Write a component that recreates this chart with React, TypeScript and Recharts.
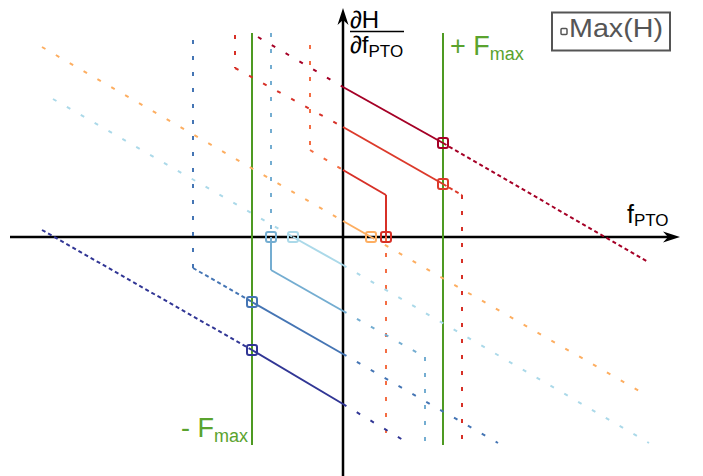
import React from 'react';
import { ComposedChart, XAxis, YAxis, ReferenceLine, ReferenceDot } from 'recharts';

// Axis units: f_PTO on x, dH/df_PTO on y (arbitrary units)
const X_DOMAIN: [number, number] = [-34.3, 36.0];
const Y_DOMAIN: [number, number] = [-23.9, 23.7];

const F_MAX_NEG = -9.1;
const F_MAX_POS = 10.0;
const F_LINE_RANGE: [number, number] = [-20.8, 20.4];

type Pt = [number, number];
type Poly = Pt[];

// Curve 1 (dark red)
const darkRedSolid: Poly[] = [[[0, 15.0], [10.0, 9.4]]];
const darkRedDashSparse: Poly[] = [[[-8.5, 20.0], [0, 15.0]]];
const darkRedDashDense: Poly[] = [[[10.0, 9.4], [30.5, -2.5]]];
const darkRedMax: Pt = [10.0, 9.4];

// Curve 2 (red)
const redSolid: Poly[] = [[[0, 11.0], [10.0, 5.3]]];
const redDashSparse: Poly[] = [[[-10.8, 20.2], [-10.8, 16.9], [0, 11.0]], [[11.9, 4.2], [11.9, -20.8]]];
const redDashDense: Poly[] = [[[10.0, 5.3], [11.9, 4.2]]];
const redMax: Pt = [10.0, 5.3];

// Curve 3 (red solid, salmon dashed)
const red3Solid: Poly[] = [[[0, 6.7], [4.3, 4.2], [4.3, 0]]];
const salmonDashSparse: Poly[] = [[[-3.3, 19.2], [-3.3, 8.7], [0, 6.7]], [[4.3, 0], [4.3, -20.8]]];
const red3Max: Pt = [4.3, 0];

// Curve 4 (orange)
const orangeSolid: Poly[] = [[[0, 1.6], [2.8, 0]]];
const orangeDashSparse: Poly[] = [[[-30.1, 19.0], [0, 1.6]], [[2.8, 0], [29.8, -15.5]]];
const orangeMax: Pt = [2.8, 0];

// Curve 5 (light blue)
const lightBlueSolid: Poly[] = [[[-5.0, 0], [0, -2.8]]];
const lightBlueDashSparse: Poly[] = [[[-29.0, 13.8], [-5.0, 0]], [[0, -2.8], [30.6, -20.6]]];
const lightBlueMax: Pt = [-5.0, 0];

// Curve 6 (mid blue)
const midBlueSolid: Poly[] = [[[-7.2, 0], [-7.2, -3.3], [0, -7.4]]];
const midBlueDashSparse: Poly[] = [[[-7.2, 20.4], [-7.2, 0]], [[0, -7.4], [8.2, -12.0], [8.2, -20.8]]];
const midBlueMax: Pt = [-7.2, 0];

// Curve 7 (blue)
const blueSolid: Poly[] = [[[-9.1, -6.5], [0, -11.7]]];
const blueDashSparse: Poly[] = [[[-15.0, 19.7], [-15.0, -3.1]], [[0, -11.7], [15.5, -20.6]]];
const blueDashDense: Poly[] = [[[-15.0, -3.1], [-9.1, -6.5]]];
const blueMax: Pt = [-9.1, -6.5];

// Curve 8 (dark blue)
const darkBlueSolid: Poly[] = [[[-9.1, -11.3], [0, -16.7]]];
const darkBlueDashDense: Poly[] = [[[-30.1, 0.7], [-9.1, -11.3]]];
const darkBlueDashSparse: Poly[] = [[[0, -16.7], [6.0, -20.3]]];
const darkBlueMax: Pt = [-9.1, -11.3];

const C = {
  darkRed: '#a50026',
  red: '#dc3a2b',
  red3: '#d73027',
  salmon: '#f46d43',
  orange: '#fdae61',
  lightBlue: '#abd9e9',
  midBlue: '#74add1',
  blue: '#4575b4',
  darkBlue: '#313695',
  green: '#4e9a22',
  greenText: '#5aa32e',
};

const SPARSE = '4 12';
const DENSE = '4 3';

type Piece = { polys: Poly[]; color: string; dash?: string };

const pieces: Piece[] = [
  { polys: darkRedDashSparse, color: C.darkRed, dash: SPARSE },
  { polys: darkRedDashDense, color: C.darkRed, dash: DENSE },
  { polys: redDashSparse, color: C.red3, dash: SPARSE },
  { polys: redDashDense, color: C.red, dash: DENSE },
  { polys: salmonDashSparse, color: C.salmon, dash: SPARSE },
  { polys: orangeDashSparse, color: C.orange, dash: SPARSE },
  { polys: lightBlueDashSparse, color: C.lightBlue, dash: SPARSE },
  { polys: midBlueDashSparse, color: C.midBlue, dash: SPARSE },
  { polys: blueDashSparse, color: C.blue, dash: SPARSE },
  { polys: blueDashDense, color: C.blue, dash: DENSE },
  { polys: darkBlueDashDense, color: C.darkBlue, dash: DENSE },
  { polys: darkBlueDashSparse, color: C.darkBlue, dash: SPARSE },
  { polys: darkRedSolid, color: C.darkRed },
  { polys: redSolid, color: C.red },
  { polys: red3Solid, color: C.red3 },
  { polys: orangeSolid, color: C.orange },
  { polys: lightBlueSolid, color: C.lightBlue },
  { polys: midBlueSolid, color: C.midBlue },
  { polys: blueSolid, color: C.blue },
  { polys: darkBlueSolid, color: C.darkBlue },
];

const maxima: { p: Pt; color: string }[] = [
  { p: darkRedMax, color: C.darkRed },
  { p: redMax, color: C.red },
  { p: red3Max, color: C.red3 },
  { p: orangeMax, color: C.orange },
  { p: lightBlueMax, color: C.lightBlue },
  { p: midBlueMax, color: C.midBlue },
  { p: blueMax, color: C.blue },
  { p: darkBlueMax, color: C.darkBlue },
];

const X_AXIS_RANGE: [number, number] = [-33.3, 33.7];
const Y_AXIS_RANGE: [number, number] = [-23.9, 22.9];

const FONT = '"Liberation Sans", Arial, Helvetica, sans-serif';

const squareShape = (color: string) => (props: any) => {
  const { cx, cy } = props;
  return (
    <rect x={cx - 5} y={cy - 5} width={10} height={10} rx={2} ry={2} fill="none" stroke={color} strokeWidth={2} />
  );
};

const arrowRight = (props: any) => {
  const { cx, cy } = props;
  return <path d={`M${cx},${cy} L${cx - 17},${cy - 5.5} L${cx - 12},${cy} L${cx - 17},${cy + 5.5} Z`} fill="#000" />;
};
const arrowUp = (props: any) => {
  const { cx, cy } = props;
  return <path d={`M${cx},${cy} L${cx - 5.5},${cy + 17} L${cx},${cy + 12} L${cx + 5.5},${cy + 17} Z`} fill="#000" />;
};

export default function App() {
  const segs: React.ReactNode[] = [];
  pieces.forEach((pc, i) => {
    pc.polys.forEach((poly, j) => {
      for (let k = 0; k < poly.length - 1; k++) {
        segs.push(
          <ReferenceLine
            key={`s-${i}-${j}-${k}`}
            segment={[
              { x: poly[k][0], y: poly[k][1] },
              { x: poly[k + 1][0], y: poly[k + 1][1] },
            ]}
            stroke={pc.color}
            strokeWidth={2}
            strokeDasharray={pc.dash}
            ifOverflow="visible"
          />
        );
      }
    });
  });

  return (
    <div style={{ position: 'absolute', left: 0, top: 0, width: 703, height: 476, background: '#fff' }}>
      <ComposedChart width={703} height={476} margin={{ top: 0, right: 0, bottom: 0, left: 0 }} data={[]}>
        <XAxis type="number" dataKey="x" domain={X_DOMAIN} hide allowDataOverflow />
        <YAxis type="number" dataKey="y" domain={Y_DOMAIN} hide allowDataOverflow />
        {/* axes */}
        <ReferenceLine segment={[{ x: X_AXIS_RANGE[0], y: 0 }, { x: X_AXIS_RANGE[1] - 1.2, y: 0 }]} stroke="#000" strokeWidth={2.5} ifOverflow="visible" />
        <ReferenceLine segment={[{ x: 0, y: Y_AXIS_RANGE[0] }, { x: 0, y: Y_AXIS_RANGE[1] - 1.2 }]} stroke="#000" strokeWidth={2.5} ifOverflow="visible" />
        <ReferenceDot x={X_AXIS_RANGE[1]} y={0} r={1} shape={arrowRight} ifOverflow="visible" />
        <ReferenceDot x={0} y={Y_AXIS_RANGE[1]} r={1} shape={arrowUp} ifOverflow="visible" />
        {/* force limits */}
        <ReferenceLine segment={[{ x: F_MAX_NEG, y: F_LINE_RANGE[0] }, { x: F_MAX_NEG, y: F_LINE_RANGE[1] }]} stroke={C.green} strokeWidth={2} ifOverflow="visible" />
        <ReferenceLine segment={[{ x: F_MAX_POS, y: F_LINE_RANGE[0] }, { x: F_MAX_POS, y: F_LINE_RANGE[1] }]} stroke={C.green} strokeWidth={2} ifOverflow="visible" />
        {segs}
        {maxima.map((m, i) => (
          <ReferenceDot key={`m-${i}`} x={m.p[0]} y={m.p[1]} r={5} shape={squareShape(m.color)} ifOverflow="visible" />
        ))}
      </ComposedChart>
      <svg width={703} height={476} style={{ position: 'absolute', left: 0, top: 0, pointerEvents: 'none' }} fontFamily={FONT}>
        <text x={350} y={28} fontSize={24} fill="#000">∂H</text>
        <line x1={350} y1={31.5} x2={404} y2={31.5} stroke="#000" strokeWidth={1.5} />
        <text x={350} y={53} fontSize={24} fill="#000">
          ∂f<tspan fontSize={17} dy={4}>PTO</tspan>
        </text>
        <text x={627} y={223} fontSize={25} fill="#000">
          f<tspan fontSize={17} dy={3}>PTO</tspan>
        </text>
        <text x={450} y={55} fontSize={27} fill={C.greenText}>
          + F<tspan fontSize={18} dy={5}>max</tspan>
        </text>
        <text x={181} y={437} fontSize={27} fill={C.greenText}>
          - F<tspan fontSize={18} dy={5}>max</tspan>
        </text>
        <rect x={552} y={12.5} width={118} height={38} fill="#fff" stroke="#555" strokeWidth={2} />
        <rect x={561} y={28.5} width={6} height={6} rx={1} fill="none" stroke="#555" strokeWidth={1.5} />
        <text x={569} y={37} fontSize={25} fill="#555" textLength={94} lengthAdjust="spacingAndGlyphs">Max(H)</text>
      </svg>
    </div>
  );
}
